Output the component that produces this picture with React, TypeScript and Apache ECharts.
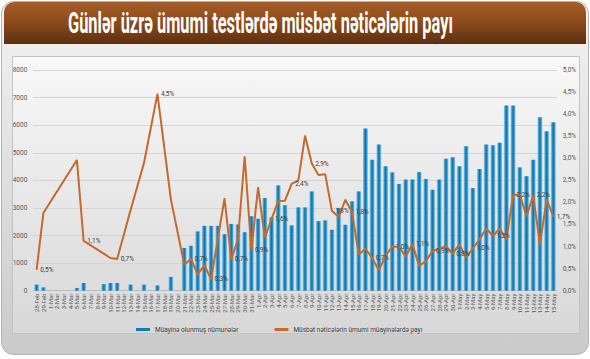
import React, { useEffect, useRef } from "react";
import * as echarts from "echarts";

const TITLE = "Günlər üzrə ümumi testlərdə müsbət nəticələrin payı";
const BAR_NAME = "Müayinə olunmuş nümunələr";
const LINE_NAME = "Müsbət nəticələrin ümumi müayinələrdə payı";

// month, first day, last day
const monthSpans: [string, number, number][] = [
  ["Feb", 28, 29],
  ["Mar", 1, 31],
  ["Apr", 1, 30],
  ["May", 1, 15],
];
const categories: string[] = monthSpans.flatMap(([m, a, b]) => {
  const out: string[] = [];
  for (let d = a; d <= b; d++) out.push(`${d}-${m}`);
  return out;
});

const testCounts: (number | null)[] = [
  220, 120, null, null, null, null, 100, 280, null, null,
  240, 280, 280, null, 220, null, 220, null, 190, null,
  500, null, 1550, 1630, 2150, 2350, 2350, 2350, 2050, 2420,
  2400, 2120, 2700, 2610, 3360, 2660, 3820, 3100, 2370, 3020,
  3020, 3600, 2520, 2550, 2210, 3000, 2390, 3240, 3600, 5880,
  4750, 5300, 4510, 4290, 3870, 4030, 4030, 4300, 4050, 3660,
  4030, 4780, 4840, 4510, 5240, 3720, 4410, 5300, 5270, 5360,
  6710, 6710, 4470, 4150, 4750, 6290, 5780, 6110,
];

const positiveShare: (number | null)[] = [
  0.48, 1.76, null, null, null, null, 2.96, 1.13, null, null,
  0.84, 0.74, 0.72, null, 1.83, null, 2.9, null, 4.46, null,
  2.07, null, 0.59, 0.72, 0.37, 0.58, 0.26, 1.18, 2.09, 0.71,
  1.16, 3.04, 0.92, 2.34, 1.2, 1.62, 2.03, 2.04, 2.42, 2.5,
  3.51, 2.88, 2.62, 2.64, 1.81, 1.67, 2.06, 1.78, 0.82, 0.95,
  0.74, 0.46, 0.8, 1.0, 0.99, 0.77, 1.06, 0.56, 0.67, 0.9,
  0.95, 1.01, 0.84, 1.05, 0.75, 0.96, 1.16, 1.41, 1.24, 1.41,
  1.16, 2.16, 2.18, 1.69, 2.16, 1.05, 2.07, 1.68,
];

const leftTicks = { min: 0, max: 8000, interval: 1000 };
const rightTicks = { min: 0, max: 5, interval: 0.5 };

const pct = (v: number) => (Math.round(v * 10) / 10).toFixed(1).replace(".", ",") + "%";

export default function App() {
  const ref = useRef<HTMLDivElement>(null);

  useEffect(() => {
    if (!ref.current) return;
    const chart = echarts.init(ref.current, undefined, { renderer: "svg" });

    const titleFont = "bold 29px Roboto";
    let titleScale = 0.6;
    try {
      const c = document.createElement("canvas").getContext("2d");
      if (c) {
        c.font = titleFont;
        const w = c.measureText(TITLE).width;
        if (w > 0) titleScale = 385 / w;
      }
    } catch (e) {}

    // label every third existing point
    let k = 0;
    const lineData = positiveShare.map((v) => {
      if (v == null) return null;
      const show = k % 3 === 0;
      k++;
      return show ? { value: v, label: { show: true } } : { value: v };
    });

    const barGradient = new echarts.graphic.LinearGradient(0, 0, 1, 0, [
      { offset: 0, color: "#9fd6ef" },
      { offset: 0.3, color: "#2b8fc6" },
      { offset: 0.5, color: "#1a6e9f" },
      { offset: 0.7, color: "#2b8fc6" },
      { offset: 1, color: "#9fd6ef" },
    ]);

    chart.setOption({
      animation: false,
      backgroundColor: "#ffffff",
      graphic: [
        {
          type: "rect",
          z: -10,
          silent: true,
          shape: { x: 1.5, y: 1.5, width: 587, height: 353, r: 12 },
          style: {
            fill: new echarts.graphic.LinearGradient(0, 0, 0, 1, [
              { offset: 0, color: "#f3f3f3" },
              { offset: 1, color: "#cacaca" },
            ]),
            stroke: "#b5b5b5",
            lineWidth: 1,
          },
        },
        {
          type: "rect",
          z: -9,
          silent: true,
          shape: { x: 12.5, y: 56.5, width: 567, height: 277 },
          style: {
            fill: new echarts.graphic.LinearGradient(0, 0, 0, 1, [
              { offset: 0, color: "#f8f8f8" },
              { offset: 1, color: "#d8d8d8" },
            ]),
            stroke: "#c3c3c3",
            lineWidth: 1,
          },
        },
        {
          type: "rect",
          z: -8,
          silent: true,
          shape: { x: 4, y: 2, width: 582, height: 42, r: [10, 10, 0, 0] },
          style: {
            fill: new echarts.graphic.LinearGradient(0, 0, 0, 1, [
              { offset: 0, color: "#a85c24" },
              { offset: 0.5, color: "#8a4a1b" },
              { offset: 1, color: "#5c2f10" },
            ]),
          },
        },
        {
          type: "text",
          z: 100,
          silent: true,
          x: 68,
          y: 23,
          scaleX: titleScale,
          style: {
            text: TITLE,
            font: titleFont,
            fill: "#ffffff",
            align: "left",
            verticalAlign: "middle",
          },
        },
      ],
      grid: { left: 33.3, right: 33.3, top: 70, bottom: 68.3, containLabel: false },
      legend: {
        left: 131,
        top: 321,
        itemWidth: 14,
        itemHeight: 3,
        itemGap: 36,
        textStyle: { fontSize: 6.5, color: "#404040", fontFamily: "Roboto" },
        data: [
          { name: BAR_NAME, icon: "rect", itemStyle: { color: "#1f78ad" } },
          { name: LINE_NAME, icon: "rect", itemStyle: { color: "#c5692c" } },
        ],
      },
      xAxis: {
        type: "category",
        data: categories,
        axisTick: { show: false },
        axisLine: { lineStyle: { color: "#bdbdbd" } },
        axisLabel: {
          interval: 0,
          rotate: 90,
          fontSize: 6,
          color: "#595959",
          margin: 3,
          fontFamily: "Roboto",
        },
      },
      yAxis: [
        {
          type: "value",
          ...leftTicks,
          axisLine: { show: false },
          axisTick: { show: false },
          splitLine: { lineStyle: { color: "#d4d4d4", width: 1 } },
          axisLabel: {
            fontSize: 6.5,
            color: "#595959",
            margin: 6,
            fontFamily: "Roboto",
            formatter: (v: number) => String(v),
          },
        },
        {
          type: "value",
          ...rightTicks,
          position: "right",
          axisLine: { show: false },
          axisTick: { show: false },
          splitLine: { show: false },
          axisLabel: {
            fontSize: 6.5,
            color: "#595959",
            margin: 6,
            fontFamily: "Roboto",
            formatter: (v: number) => v.toFixed(1).replace(".", ",") + "%",
          },
        },
      ],
      series: [
        {
          name: BAR_NAME,
          type: "bar",
          yAxisIndex: 0,
          data: testCounts,
          barWidth: 5,
          itemStyle: { color: barGradient },
        },
        {
          name: LINE_NAME,
          type: "line",
          yAxisIndex: 1,
          data: lineData,
          connectNulls: true,
          symbol: "circle",
          symbolSize: 1,
          showSymbol: true,
          itemStyle: { color: "#c5692c" },
          lineStyle: { color: "#c5692c", width: 2 },
          label: {
            show: false,
            position: "right",
            distance: 3,
            fontSize: 6.5,
            color: "#404040",
            fontFamily: "Roboto",
            formatter: (p: any) => pct(p.value),
          },
          z: 3,
        },
      ],
    });

    return () => chart.dispose();
  }, []);

  return (
    <div
      ref={ref}
      style={{ position: "absolute", left: 0, top: 0, width: 590, height: 359 }}
    />
  );
}
